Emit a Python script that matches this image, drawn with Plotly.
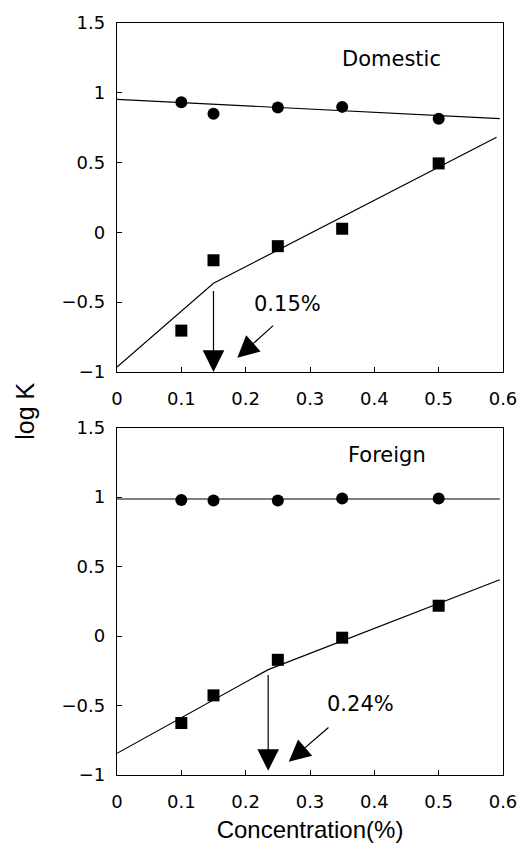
import plotly.graph_objects as go

conc = [0.1, 0.15, 0.25, 0.35, 0.5]

dom_circle = [0.932, 0.849, 0.894, 0.899, 0.814]
dom_square = [-0.704, -0.200, -0.099, 0.026, 0.494]
dom_circle_fit_x = [0.0, 0.595]
dom_circle_fit_y = [0.953, 0.815]
dom_square_fit_x = [0.0, 0.15, 0.59]
dom_square_fit_y = [-0.965, -0.365, 0.682]
dom_break = 0.15

for_circle = [0.979, 0.976, 0.976, 0.990, 0.990]
for_square = [-0.626, -0.427, -0.171, -0.012, 0.218]
for_circle_fit_x = [0.0, 0.595]
for_circle_fit_y = [0.986, 0.986]
for_square_fit_x = [0.0, 0.235, 0.595]
for_square_fit_y = [-0.844, -0.242, 0.405]
for_break = 0.235

x_ticks = [0, 0.1, 0.2, 0.3, 0.4, 0.5, 0.6]
y_ticks = [-1, -0.5, 0, 0.5, 1, 1.5]

fig = go.Figure()

line_style = dict(color="black", width=1.2)

def add_panel(xa, ya, cx, cy, sfx, sfy, circ, sq):
    fig.add_trace(go.Scatter(x=cx, y=cy, mode="lines", line=line_style,
                             xaxis=xa, yaxis=ya, showlegend=False, hoverinfo="skip"))
    fig.add_trace(go.Scatter(x=sfx, y=sfy, mode="lines", line=line_style,
                             xaxis=xa, yaxis=ya, showlegend=False, hoverinfo="skip"))
    fig.add_trace(go.Scatter(x=conc, y=circ, mode="markers",
                             marker=dict(symbol="circle", size=12, color="black"),
                             xaxis=xa, yaxis=ya, showlegend=False))
    fig.add_trace(go.Scatter(x=conc, y=sq, mode="markers",
                             marker=dict(symbol="square", size=12, color="black"),
                             xaxis=xa, yaxis=ya, showlegend=False))

add_panel("x", "y", dom_circle_fit_x, dom_circle_fit_y,
          dom_square_fit_x, dom_square_fit_y, dom_circle, dom_square)
add_panel("x2", "y2", for_circle_fit_x, for_circle_fit_y,
          for_square_fit_x, for_square_fit_y, for_circle, for_square)

tick_font = dict(family="DejaVu Sans", size=18, color="black")
label_font = dict(family="DejaVu Sans", size=21, color="black")

axis_common = dict(range=[0, 0.6], tickvals=x_ticks, ticks="inside", ticklen=5,
                   showline=True, linecolor="black", linewidth=1.3, mirror=True,
                   showgrid=False, zeroline=False, tickfont=tick_font,
                   tickcolor="black", ticklabelstandoff=10)
yaxis_common = dict(range=[-1, 1.5], tickvals=y_ticks, ticks="inside", ticklen=5,
                    showline=True, linecolor="black", linewidth=1.3, mirror=True,
                    showgrid=False, zeroline=False, tickfont=tick_font,
                    tickcolor="black", ticklabelstandoff=7)

fig.update_layout(
    width=529, height=851,
    margin=dict(l=117, r=24, t=14, b=74),
    paper_bgcolor="white", plot_bgcolor="white",
    xaxis=dict(domain=[0, 1], anchor="y", **axis_common),
    yaxis=dict(domain=[0.536, 1], anchor="x", **yaxis_common),
    xaxis2=dict(domain=[0, 1], anchor="y2",
                title=dict(text="Concentration(%)",
                           font=dict(family="Liberation Sans", size=24, color="black"),
                           standoff=10),
                **axis_common),
    yaxis2=dict(domain=[0, 0.462], anchor="x2", **yaxis_common),
)

annotations = [
    dict(x=0.427, y=1.245, xref="x", yref="y", text="Domestic", showarrow=False,
         font=label_font),
    dict(x=0.42, y=1.30, xref="x2", yref="y2", text="Foreign", showarrow=False,
         font=label_font),
    dict(x=0.265, y=-0.51, xref="x", yref="y", text="0.15%", showarrow=False,
         font=label_font),
    dict(x=0.378, y=-0.49, xref="x2", yref="y2", text="0.24%", showarrow=False,
         font=label_font),
    dict(x=0.5, y=0.5, xref="paper", yref="paper", text="log K", showarrow=False,
         textangle=-90, font=dict(family="Liberation Sans", size=25, color="black"),
         xanchor="center", yanchor="middle"),
]

arrow_style = dict(showarrow=True, arrowhead=2, arrowsize=3.6, arrowwidth=1.2,
                   arrowcolor="black", text="", standoff=0)
annotations += [
    dict(x=dom_break, y=-1.0, ax=dom_break, ay=-0.41, xref="x", yref="y",
         axref="x", ayref="y", **arrow_style),
    dict(x=0.187, y=-0.899, ax=0.245, ay=-0.659, xref="x", yref="y",
         axref="x", ayref="y", **arrow_style),
    dict(x=for_break, y=-0.97, ax=for_break, ay=-0.27, xref="x2", yref="y2",
         axref="x2", ayref="y2", **arrow_style),
    dict(x=0.267, y=-0.905, ax=0.331, ay=-0.649, xref="x2", yref="y2",
         axref="x2", ayref="y2", **arrow_style),
]
fig.update_layout(annotations=annotations)

# position log K label in pixel terms: centre x≈25px, y≈408px
plot_w = 529 - 117 - 24
plot_h = 851 - 14 - 74
fig.layout.annotations[4].x = (25 - 117) / plot_w
fig.layout.annotations[4].y = (851 - 74 - 408) / plot_h

fig.write_html(
    "out.html",
    config={"displayModeBar": False},
    post_script="document.body.style.margin='0px';document.body.style.overflow='hidden';",
)
